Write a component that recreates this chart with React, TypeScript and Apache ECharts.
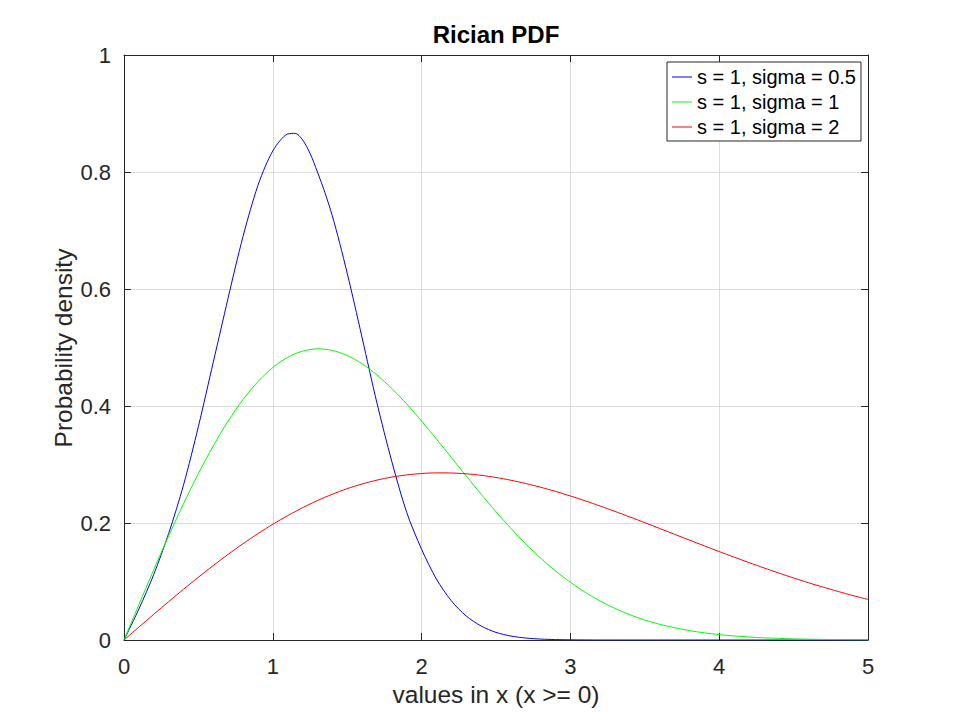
import React, { useEffect, useRef } from "react";
import * as echarts from "echarts";

const xValues = [
  0, 0.1, 0.2, 0.3, 0.4, 0.5, 0.6, 0.7, 0.8, 0.9,
  1, 1.1, 1.2, 1.3, 1.4, 1.5, 1.6, 1.7, 1.8, 1.9,
  2, 2.1, 2.2, 2.3, 2.4, 2.5, 2.6, 2.7, 2.8, 2.9,
  3, 3.1, 3.2, 3.3, 3.4, 3.5, 3.6, 3.7, 3.8, 3.9,
  4, 4.1, 4.2, 4.3, 4.4, 4.5, 4.6, 4.7, 4.8, 4.9, 5,
];

// s = 1, sigma = 0.5 (denser sampling around the peak)
const sigmaHalfX = [
  0, 0.1, 0.2, 0.3, 0.4, 0.5, 0.6,
  0.65, 0.7, 0.75, 0.8, 0.85, 0.9, 0.95, 1, 1.05, 1.1, 1.15, 1.2, 1.25,
  1.3, 1.35, 1.4, 1.45, 1.5, 1.55, 1.6,
  1.7, 1.8, 1.9,
  2, 2.1, 2.2, 2.3, 2.4, 2.5, 2.6, 2.7, 2.8, 2.9,
  3, 3.1, 3.2, 3.5, 4, 4.5, 5,
];
const sigmaHalf = [
  0, 0.053, 0.112, 0.182, 0.265, 0.365, 0.475,
  0.53, 0.585, 0.639, 0.69, 0.736, 0.777, 0.81, 0.836, 0.854, 0.865, 0.866, 0.855, 0.832,
  0.8, 0.765, 0.725, 0.678, 0.627, 0.573, 0.517,
  0.405, 0.305, 0.218,
  0.155, 0.104, 0.067, 0.041, 0.024, 0.013, 0.0068, 0.0034, 0.0016, 0.0007,
  0.0003, 0.0001, 0, 0, 0, 0, 0,
];

// s = 1, sigma = 1
const sigmaOne = [
  0, 0.0605, 0.1201, 0.1779, 0.233, 0.2846, 0.3319, 0.3743, 0.411, 0.4416,
  0.4658, 0.4832, 0.4938, 0.4977, 0.495, 0.4864, 0.4722, 0.453, 0.4299, 0.4034,
  0.3742, 0.3435, 0.3119, 0.2802, 0.2492, 0.2192, 0.1909, 0.1643, 0.14, 0.1182,
  0.0987, 0.0815, 0.0666, 0.0539, 0.0432, 0.0342, 0.0269, 0.0209, 0.0161, 0.0122,
  0.0092, 0.0069, 0.0051, 0.0037, 0.0027, 0.0019, 0.0014, 0.001, 0.0007, 0.0005, 0.0003,
];

// s = 1, sigma = 2
const sigmaTwo = [
  0, 0.022, 0.0439, 0.0655, 0.0867, 0.1073, 0.1273, 0.1464, 0.1646, 0.1818,
  0.1978, 0.2126, 0.2261, 0.2384, 0.2492, 0.2587, 0.2667, 0.2733, 0.2785, 0.2822,
  0.2846, 0.2857, 0.2855, 0.2841, 0.2815, 0.2778, 0.2731, 0.2675, 0.2611, 0.254,
  0.2462, 0.2378, 0.229, 0.2198, 0.2103, 0.2006, 0.1907, 0.1807, 0.1708, 0.161,
  0.1512, 0.1417, 0.1323, 0.1233, 0.1145, 0.106, 0.0979, 0.0902, 0.0829, 0.0759, 0.0693,
];

const seriesNames = ["s = 1, sigma = 0.5", "s = 1, sigma = 1", "s = 1, sigma = 2"];
const seriesColors = ["#0000ff", "#00ff00", "#ff0000"];
const seriesX = [sigmaHalfX, xValues, xValues];
const seriesValues = [sigmaHalf, sigmaOne, sigmaTwo];

const titleText = "Rician PDF";
const xAxisTitle = "values in x (x >= 0)";
const yAxisTitle = "Probability density";

const FONT = "'Liberation Sans', Arial, Helvetica, sans-serif";
const INK = "#262626";

export default function App() {
  const ref = useRef<HTMLDivElement>(null);

  useEffect(() => {
    document.body.style.margin = "0";
    if (!ref.current) return;
    const chart = echarts.init(ref.current, undefined, { renderer: "svg" });

    const left = 124;
    const top = 55;
    const right = 92;
    const bottom = 80;

    const axisCommon = {
      type: "value" as const,
      axisLine: { show: true, onZero: false, lineStyle: { color: INK, width: 1 } },
      axisTick: { show: true, inside: true, length: 7, lineStyle: { color: INK, width: 1 } },
    };

    chart.setOption({
      animation: false,
      backgroundColor: "#ffffff",
      textStyle: { fontFamily: FONT },
      grid: { left, top, right, bottom, containLabel: false },
      xAxis: [
        {
          ...axisCommon,
          position: "bottom",
          min: 0,
          max: 5,
          interval: 1,
          axisLabel: { show: true, color: INK, fontSize: 22, fontFamily: FONT, margin: 15 },
          splitLine: { show: true, lineStyle: { color: "#dcdcdc", width: 1 } },
        },
        {
          ...axisCommon,
          position: "top",
          min: 0,
          max: 5,
          interval: 1,
          axisLabel: { show: false },
          splitLine: { show: false },
        },
      ],
      yAxis: [
        {
          ...axisCommon,
          position: "left",
          min: 0,
          max: 1,
          interval: 0.2,
          axisLabel: { show: true, color: INK, fontSize: 22, fontFamily: FONT, margin: 13 },
          splitLine: { show: true, lineStyle: { color: "#dcdcdc", width: 1 } },
        },
        {
          ...axisCommon,
          position: "right",
          min: 0,
          max: 1,
          interval: 0.2,
          axisLabel: { show: false },
          splitLine: { show: false },
        },
      ],
      legend: {
        show: true,
        orient: "vertical",
        left: 667,
        top: 62,
        padding: [5, 5, 4, 5],
        icon: "rect",
        itemWidth: 20,
        itemHeight: 1,
        itemGap: 5,
        borderColor: "#262626",
        borderWidth: 1,
        backgroundColor: "#ffffff",
        textStyle: { color: "#000000", fontSize: 20, fontFamily: FONT, lineHeight: 20 },
        data: seriesNames,
      },
      series: seriesNames.map((name, i) => ({
        name,
        type: "line",
        xAxisIndex: 0,
        yAxisIndex: 0,
        symbol: "none",
        smooth: 0.3,
        lineStyle: { color: seriesColors[i], width: 1 },
        itemStyle: { color: seriesColors[i] },
        data: seriesX[i].map((x, k) => [x, seriesValues[i][k]]),
        z: 3 + i,
      })),
      graphic: [
        {
          type: "text",
          x: 496,
          y: 34,
          style: {
            text: titleText,
            fill: "#000000",
            font: `bold 24px ${FONT}`,
            textAlign: "center",
            textVerticalAlign: "middle",
          },
        },
        {
          type: "text",
          x: 496,
          y: 694,
          style: {
            text: xAxisTitle,
            fill: INK,
            font: `24.5px ${FONT}`,
            textAlign: "center",
            textVerticalAlign: "middle",
          },
        },
        {
          type: "text",
          x: 63,
          y: 348,
          rotation: Math.PI / 2,
          style: {
            text: yAxisTitle,
            fill: INK,
            font: `24.5px ${FONT}`,
            textAlign: "center",
            textVerticalAlign: "middle",
          },
        },
      ],
    });

    return () => {
      chart.dispose();
    };
  }, []);

  return (
    <div
      ref={ref}
      style={{ position: "fixed", left: 0, top: 0, width: 960, height: 720 }}
    />
  );
}
